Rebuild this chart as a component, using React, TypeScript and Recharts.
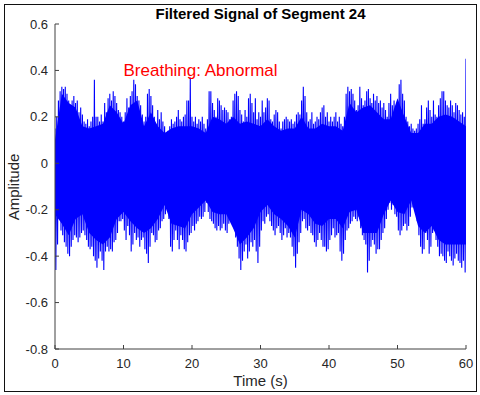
import React from 'react';
import { ComposedChart, Line, Area, XAxis, YAxis, ReferenceDot } from 'recharts';

// Sampling step (s) of the envelope readings
const SAMPLE_STEP = 0.25;

// Upper peaks read every 0.25 s (t = 0 .. 60)
const upperPeaks = [
  0.15, 0.2, 0.27, 0.31, 0.33, 0.32, 0.33, 0.3, 0.27, 0.23, 0.27, 0.29,
  0.26, 0.27, 0.22, 0.24, 0.21, 0.18, 0.17, 0.19, 0.16, 0.18, 0.2, 0.36,
  0.2, 0.2, 0.18, 0.21, 0.18, 0.26, 0.22, 0.28, 0.3, 0.27, 0.31, 0.29,
  0.26, 0.23, 0.22, 0.2, 0.18, 0.22, 0.28, 0.24, 0.29, 0.31, 0.36, 0.34,
  0.29, 0.27, 0.25, 0.21, 0.18, 0.2, 0.3, 0.32, 0.29, 0.25, 0.2, 0.17,
  0.23, 0.19, 0.22, 0.18, 0.16, 0.1, 0.14, 0.16, 0.19, 0.17, 0.18, 0.2,
  0.23, 0.19, 0.18, 0.2, 0.21, 0.27, 0.27, 0.37, 0.2, 0.18, 0.2, 0.17,
  0.19, 0.18, 0.2, 0.17, 0.15, 0.19, 0.31, 0.31, 0.26, 0.23, 0.2, 0.28,
  0.27, 0.25, 0.23, 0.24, 0.23, 0.22, 0.19, 0.2, 0.27, 0.3, 0.31, 0.29,
  0.23, 0.21, 0.18, 0.23, 0.2, 0.28, 0.3, 0.26, 0.22, 0.28, 0.19, 0.22,
  0.2, 0.27, 0.22, 0.24, 0.28, 0.27, 0.19, 0.18, 0.21, 0.23, 0.22, 0.18,
  0.15, 0.18, 0.19, 0.2, 0.19, 0.18, 0.19, 0.17, 0.18, 0.21, 0.22, 0.21,
  0.27, 0.33, 0.29, 0.22, 0.18, 0.19, 0.22, 0.17, 0.18, 0.2, 0.19, 0.22,
  0.24, 0.25, 0.2, 0.22, 0.18, 0.2, 0.18, 0.2, 0.22, 0.18, 0.2, 0.17,
  0.16, 0.2, 0.3, 0.33, 0.31, 0.32, 0.3, 0.27, 0.23, 0.25, 0.33, 0.28,
  0.25, 0.27, 0.31, 0.32, 0.28, 0.26, 0.3, 0.27, 0.29, 0.26, 0.27, 0.24,
  0.26, 0.23, 0.2, 0.26, 0.3, 0.25, 0.27, 0.24, 0.27, 0.34, 0.36, 0.3,
  0.27, 0.2, 0.18, 0.16, 0.17, 0.15, 0.14, 0.15, 0.17, 0.19, 0.25, 0.17,
  0.19, 0.24, 0.27, 0.23, 0.2, 0.27, 0.21, 0.2, 0.25, 0.28, 0.31, 0.31,
  0.27, 0.25, 0.24, 0.27, 0.25, 0.22, 0.26, 0.25, 0.23, 0.21, 0.22, 0.2,
  0.45,
];

// Lower troughs read every 0.25 s (t = 0.125 .. 59.875)
const lowerPeaks = [
  -0.46, -0.35, -0.24, -0.29, -0.31, -0.34, -0.36, -0.39, -0.4, -0.36, -0.33, -0.31,
  -0.32, -0.34, -0.32, -0.3, -0.29, -0.31, -0.33, -0.36, -0.37, -0.36, -0.4, -0.42,
  -0.45, -0.41, -0.38, -0.42, -0.46, -0.38, -0.36, -0.38, -0.37, -0.38, -0.34, -0.33,
  -0.3, -0.25, -0.25, -0.24, -0.29, -0.33, -0.27, -0.31, -0.38, -0.35, -0.3, -0.33,
  -0.32, -0.36, -0.33, -0.32, -0.37, -0.39, -0.43, -0.36, -0.3, -0.31, -0.34, -0.33,
  -0.29, -0.28, -0.25, -0.24, -0.22, -0.19, -0.24, -0.36, -0.38, -0.33, -0.29, -0.33,
  -0.37, -0.31, -0.33, -0.37, -0.38, -0.34, -0.31, -0.3, -0.27, -0.29, -0.26, -0.25,
  -0.23, -0.24, -0.23, -0.21, -0.17, -0.21, -0.24, -0.25, -0.26, -0.28, -0.29, -0.27,
  -0.29, -0.28, -0.26, -0.29, -0.3, -0.26, -0.22, -0.24, -0.28, -0.32, -0.36, -0.41,
  -0.46, -0.42, -0.38, -0.35, -0.41, -0.38, -0.34, -0.36, -0.33, -0.38, -0.43, -0.36,
  -0.29, -0.25, -0.26, -0.23, -0.22, -0.25, -0.27, -0.29, -0.31, -0.28, -0.27, -0.3,
  -0.33, -0.31, -0.28, -0.32, -0.3, -0.32, -0.36, -0.4, -0.45, -0.39, -0.34, -0.3,
  -0.25, -0.24, -0.28, -0.29, -0.27, -0.3, -0.31, -0.34, -0.36, -0.33, -0.3, -0.33,
  -0.36, -0.36, -0.38, -0.37, -0.33, -0.31, -0.28, -0.32, -0.31, -0.3, -0.38, -0.42,
  -0.39, -0.33, -0.29, -0.28, -0.26, -0.25, -0.23, -0.24, -0.25, -0.23, -0.28, -0.31,
  -0.33, -0.35, -0.47, -0.42, -0.36, -0.33, -0.35, -0.39, -0.37, -0.37, -0.33, -0.3,
  -0.28, -0.24, -0.2, -0.17, -0.2, -0.18, -0.22, -0.23, -0.29, -0.31, -0.29, -0.27,
  -0.26, -0.29, -0.27, -0.23, -0.19, -0.17, -0.2, -0.25, -0.31, -0.36, -0.39, -0.37,
  -0.3, -0.33, -0.39, -0.36, -0.3, -0.29, -0.33, -0.36, -0.4, -0.39, -0.4, -0.42,
  -0.43, -0.38, -0.4, -0.42, -0.44, -0.41, -0.39, -0.42, -0.43, -0.45, -0.42, -0.47,
];

// Dense (solid) core of the trace, read every 1 s (t = 0 .. 60)
const coreUpper = [
  0.1, 0.3, 0.26, 0.24, 0.16, 0.15, 0.16, 0.17, 0.25, 0.22,
  0.17, 0.25, 0.27, 0.16, 0.22, 0.16, 0.13, 0.15, 0.16, 0.16,
  0.16, 0.15, 0.13, 0.2, 0.19, 0.17, 0.2, 0.17, 0.18, 0.17,
  0.16, 0.19, 0.16, 0.14, 0.15, 0.15, 0.2, 0.15, 0.15, 0.17,
  0.16, 0.16, 0.14, 0.26, 0.22, 0.24, 0.25, 0.22, 0.19, 0.19,
  0.28, 0.2, 0.13, 0.13, 0.17, 0.17, 0.2, 0.21, 0.2, 0.18,
  0.16,
];
const coreLower = [
  -0.22, -0.26, -0.31, -0.24, -0.22, -0.3, -0.33, -0.35, -0.32, -0.24,
  -0.21, -0.25, -0.28, -0.3, -0.28, -0.24, -0.18, -0.26, -0.27, -0.28,
  -0.22, -0.19, -0.16, -0.21, -0.22, -0.22, -0.28, -0.35, -0.32, -0.28,
  -0.21, -0.18, -0.22, -0.24, -0.27, -0.32, -0.2, -0.22, -0.26, -0.27,
  -0.24, -0.24, -0.28, -0.21, -0.2, -0.3, -0.3, -0.3, -0.22, -0.16,
  -0.21, -0.22, -0.16, -0.27, -0.3, -0.27, -0.33, -0.35, -0.35, -0.35,
  -0.35,
];
const CORE_STEP = 1;

const xTicks = [0, 10, 20, 30, 40, 50, 60];
const yTicks = [-0.8, -0.6, -0.4, -0.2, 0, 0.2, 0.4, 0.6];
const titleText = 'Filtered Signal of Segment 24';
const xLabel = 'Time (s)';
const yLabel = 'Amplitude';
const noteText = 'Breathing: Abnormal';
const noteT = 10;
const noteV = 0.4;

type Pt = { t: number; v: number };
const signal: Pt[] = [];
upperPeaks.forEach((u, i) => {
  signal.push({ t: i * SAMPLE_STEP, v: u });
  if (i < lowerPeaks.length) {
    signal.push({ t: i * SAMPLE_STEP + SAMPLE_STEP / 2, v: lowerPeaks[i] });
  }
});

const coreBand = coreUpper.map((hi, i) => ({ t: i * CORE_STEP, band: [coreLower[i], hi] }));

const FONT = '"Liberation Sans", Arial, Helvetica, sans-serif';
const AXIS_COLOR = '#404040';
const TICK_TEXT = { fill: '#262626', fontSize: 13, fontFamily: FONT };
const fmt = (v: number) => String(Math.round(v * 10) / 10);
const blank = () => '';

export default function App() {
  return (
    <div style={{ position: 'absolute', left: 0, top: 0, width: 480, height: 395, background: '#fff', fontFamily: FONT }}>
      <div
        style={{
          position: 'absolute',
          left: 4,
          top: 4,
          width: 473,
          height: 388,
          border: '1.5px solid #111',
          boxSizing: 'border-box',
        }}
      />
      <ComposedChart
        width={480}
        height={395}
        data={signal}
        margin={{ top: 24, right: 14, bottom: 16, left: 0 }}
        style={{ position: 'absolute', left: 0, top: 0 }}
      >
        <XAxis
          dataKey="t"
          type="number"
          domain={[0, 60]}
          ticks={xTicks}
          allowDataOverflow
          height={30}
          tickSize={-4}
          tickMargin={14}
          tick={TICK_TEXT}
          tickFormatter={fmt}
          stroke={AXIS_COLOR}
        />
        <XAxis
          xAxisId="top"
          orientation="top"
          dataKey="t"
          type="number"
          domain={[0, 60]}
          ticks={xTicks}
          allowDataOverflow
          height={0}
          tickSize={-4}
          tickFormatter={blank}
          stroke={AXIS_COLOR}
        />
        <YAxis
          type="number"
          domain={[-0.8, 0.6]}
          ticks={yTicks}
          allowDataOverflow
          width={55}
          tickSize={-4}
          tickMargin={11}
          tick={TICK_TEXT}
          tickFormatter={fmt}
          stroke={AXIS_COLOR}
        />
        <YAxis
          yAxisId="right"
          orientation="right"
          type="number"
          domain={[-0.8, 0.6]}
          ticks={yTicks}
          allowDataOverflow
          width={0}
          tickSize={-4}
          tickFormatter={blank}
          stroke={AXIS_COLOR}
        />
        <Area
          data={coreBand}
          dataKey="band"
          type="linear"
          stroke="none"
          fill="#0000ff"
          fillOpacity={1}
          dot={false}
          activeDot={false}
          isAnimationActive={false}
        />
        <Line
          dataKey="v"
          type="linear"
          stroke="#0000ff"
          strokeWidth={1.1}
          dot={false}
          activeDot={false}
          isAnimationActive={false}
        />
        <ReferenceDot
          x={noteT}
          y={noteV}
          r={0}
          fill="none"
          stroke="none"
          label={{ value: noteText, position: 'right', offset: 0, fill: '#ff0000', fontSize: 17, fontFamily: FONT }}
        />
      </ComposedChart>
      <div
        style={{
          position: 'absolute',
          left: 55,
          width: 411,
          top: 5,
          textAlign: 'center',
          fontWeight: 'bold',
          fontSize: 15,
          lineHeight: '18px',
          color: '#000',
        }}
      >
        {titleText}
      </div>
      <div
        style={{
          position: 'absolute',
          left: 55,
          width: 411,
          top: 372,
          textAlign: 'center',
          fontSize: 15,
          lineHeight: '18px',
          color: '#262626',
        }}
      >
        {xLabel}
      </div>
      <div
        style={{
          position: 'absolute',
          left: 14 - 100,
          width: 200,
          top: 187 - 9,
          height: 18,
          textAlign: 'center',
          fontSize: 15,
          lineHeight: '18px',
          color: '#262626',
          transform: 'rotate(-90deg)',
        }}
      >
        {yLabel}
      </div>
    </div>
  );
}
